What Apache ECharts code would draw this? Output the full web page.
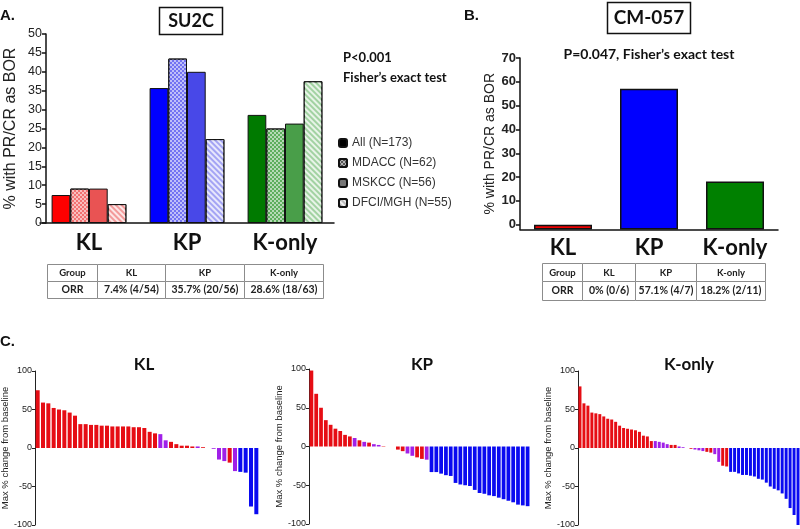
<!DOCTYPE html>
<html>
<head>
<meta charset="utf-8">
<script src="https://cdn.jsdelivr.net/npm/echarts@6/dist/echarts.min.js"></script>
<style>
  html, body { margin: 0; padding: 0; background: #fff; }
  #chart { width: 800px; height: 529px; }
</style>
</head>
<body>
<div id="chart"></div>
<script>
// ---- data ----
const groups = ["KL", "KP", "K-only"];
const cohorts = ["All (N=173)", "MDACC (N=62)", "MSKCC (N=56)", "DFCI/MGH (N=55)"];
const su2cAll = [7.4, 35.7, 28.6];
const su2cMdacc = [9.1, 43.5, 25.0];
const su2cMskcc = [9.1, 40.0, 26.3];
const su2cDfci = [5.0, 22.2, 37.5];
const cm057 = [0, 57.1, 18.2];
const ticksA = [0, 5, 10, 15, 20, 25, 30, 35, 40, 45, 50];
const ticksB = [0, 10, 20, 30, 40, 50, 60, 70];

const tableHead = ["Group", "KL", "KP", "K-only"];
const orrSu2c = ["ORR", "7.4% (4/54)", "35.7% (20/56)", "28.6% (18/63)"];
const orrCm057 = ["ORR", "0% (0/6)", "57.1% (4/7)", "18.2% (2/11)"];

// waterfalls: max % change from baseline, null = empty slot
// response letters: r = red, p = purple, b = blue
const klChange = [75, 59, 58, 52, 50, 49, 46, 42, 31, 31, 30, 30, 29, 29, 28, 28, 28, 28, 27, 27, 26, 21, 19,
  18, 10, 8, 5, 3, 3, 2, 2, 1, null, -1, -15, -17, -19, -30, -31, -32, -76, -86];
const klResp = "rrrrrrrrrrrrrrrrrrrrrrrpprrrrrpr-ppprpbbbb";
const kpChange = [98, 68, 50, 34, 28, 23, 20, 15, 13, 11, 8, 6, 5, 3, 2, 0.5, null, null,
  -4, -6, -9, -12, -14, -16, -17,
  -33, -33, -35, -37, -38, -47, -49, -50, -51, -56, -60, -61, -63, -64, -66, -68, -70, -72, -75, -76, -77];
const kpResp = "rrrrrrrrrprprppr--rrpprrpbbbbbbbbbbbbbbbbbbbbb";
const koChange = [80, 58, 55, 46, 45, 44, 41, 38, 37, 34, 29, 26, 25, 24, 23, 21, 16, 15,
  9, 9, 8, 7, 5, 4, 4, 2, 1, null, -1, -2, -3, -4, -5, -6, -8, -18, -23, -24,
  -31, -31, -33, -35, -35, -36, -37, -40, -41, -45, -50, -53, -55, -59, -66, -78, -87, -100];
const koResp = "rrrrrrrrrrrrrrrrrrrpppprrpp-rppprrpprrbbbbbbbbbbbbbbbbbb";

// ---- styles ----
const fillA = [
  ["#ff0000", "#0000ff", "#007a00"],
  ["#f27272", "#7272f2", "#5cae5c"],
  ["#e95353", "#4848e8", "#499e49"],
  ["#f39a9a", "#a4a4f4", "#a2d2a2"],
];
const legendFill = ["#000000", "#555555", "#777777", "#bbbbbb"];
const decals = [
  null,
  { symbol: "rect", symbolSize: 1, dashArrayX: [[2, 2], [0, 2, 2, 0]], dashArrayY: [2, 0], color: "rgba(255,255,255,0.55)" },
  null,
  { symbol: "rect", symbolSize: 1, rotation: Math.PI / 4, dashArrayX: [1, 0], dashArrayY: [2, 2], color: "rgba(255,255,255,0.75)" },
];
const colorsB = ["#ee0000", "#0000ff", "#008000"];
const respColor = { r: "#e60d14", p: "#a020e8", b: "#0a0af0" };
const baseB = -2; // panel B bars start from the axis floor at -2

const axisFont = "Liberation Sans";
const labelFont = "Lato";

function catAxis(gi, margin) {
  return {
    type: "category", gridIndex: gi, data: groups,
    axisLine: { show: true, lineStyle: { color: "#111", width: 1.5 } },
    axisTick: { show: false },
    axisLabel: { fontSize: 22, fontWeight: "bold", fontFamily: labelFont, color: "#111", margin: margin },
    splitLine: { show: false },
  };
}

function wfX(gi, vals) {
  return { type: "category", gridIndex: gi, data: vals.map((v, i) => i), show: false };
}

function wfY(gi, gap) {
  return {
    type: "value", gridIndex: gi, min: -100, max: 100, interval: 50,
    axisLine: { show: true, lineStyle: { color: "#222", width: 1 } },
    axisTick: { show: true, length: 3, lineStyle: { color: "#222" } },
    axisLabel: { fontSize: 9, color: "#222", fontFamily: axisFont, margin: 3 },
    splitLine: { show: false },
    name: "Max % change from baseline", nameLocation: "middle", nameGap: gap,
    nameTextStyle: { fontSize: 9.5, color: "#222", fontFamily: axisFont },
  };
}

function waterfall(gi, vals, resp, bw) {
  return {
    type: "bar", xAxisIndex: gi, yAxisIndex: gi, barWidth: bw,
    data: vals.map((v, i) => v === null ? "-" : { value: v, itemStyle: { color: respColor[resp[i]] } }),
  };
}

function tableEls(xs, ys, rows) {
  const els = [];
  rows.forEach((row, r) => row.forEach((txt, c) => {
    els.push({
      type: "rect",
      shape: { x: xs[c], y: ys[r], width: xs[c + 1] - xs[c], height: ys[r + 1] - ys[r] },
      style: { fill: "#fff", stroke: "#8c8c8c", lineWidth: 1 },
    });
    els.push({
      type: "text", x: (xs[c] + xs[c + 1]) / 2, y: (ys[r] + ys[r + 1]) / 2,
      style: {
        text: txt, fill: "#222", fontFamily: labelFont, fontWeight: "bold",
        fontSize: r === 0 ? 9.5 : 10.5,
        align: "center", verticalAlign: "middle", textAlign: "center", textVerticalAlign: "middle",
      },
    });
  }));
  return els;
}

function label(text, x, y, size, align, family) {
  return {
    type: "text", x: x, y: y, z: 10,
    style: {
      text: text, fill: "#111", fontFamily: family || labelFont, fontWeight: "bold", fontSize: size,
      align: align, verticalAlign: "middle", textAlign: align, textVerticalAlign: "middle",
    },
  };
}

const seriesA = [su2cAll, su2cMdacc, su2cMskcc, su2cDfci].map((vals, k) => {
  const style = { color: legendFill[k], borderColor: "#111", borderWidth: 1 };
  if (decals[k]) style.decal = decals[k];
  return {
    name: cohorts[k], type: "bar", xAxisIndex: 0, yAxisIndex: 0,
    barWidth: 18.7, barGap: "0%",
    itemStyle: style,
    data: vals.map((v, i) => ({ value: v, itemStyle: { color: fillA[k][i] } })),
  };
});

const seriesB = {
  type: "bar", xAxisIndex: 1, yAxisIndex: 1, barWidth: 58,
  itemStyle: { borderColor: "#111", borderWidth: 1.5 },
  data: cm057.map((v, i) => ({ value: v - baseB, itemStyle: { color: colorsB[i] } })),
};

const gridBase = { containLabel: false, outerBoundsMode: "none" };

const option = {
  animation: false,
  backgroundColor: "#fff",
  grid: [
    Object.assign({ left: 40, top: 34, width: 294, height: 189 }, gridBase),
    Object.assign({ left: 520, top: 58, width: 258, height: 171.5 }, gridBase),
    Object.assign({ left: 35, top: 371, width: 224, height: 154 }, gridBase),
    Object.assign({ left: 309, top: 369, width: 221, height: 155 }, gridBase),
    Object.assign({ left: 578, top: 371, width: 222, height: 154 }, gridBase),
  ],
  legend: {
    data: cohorts, orient: "vertical", left: 338, top: 136,
    itemWidth: 8, itemHeight: 8, itemGap: 6, padding: 0,
    textStyle: { fontSize: 12, color: "#333", fontFamily: axisFont, lineHeight: 14 },
  },
  xAxis: [
    catAxis(0, 9),
    catAxis(1, 7),
    wfX(2, klChange),
    wfX(3, kpChange),
    wfX(4, koChange),
  ],
  yAxis: [
    {
      type: "value", gridIndex: 0, min: 0, max: 50, interval: 5, offset: -6,
      axisLine: { show: true, lineStyle: { color: "#111", width: 1.5 } },
      axisTick: { show: true, length: 4, lineStyle: { color: "#111", width: 1.5 } },
      axisLabel: { fontSize: 12.5, color: "#222", fontFamily: axisFont, margin: 4,
        customValues: ticksA },
      splitLine: { show: false },
      name: "% with PR/CR as BOR", nameLocation: "middle", nameGap: 27,
      nameTextStyle: { fontSize: 16, color: "#222", fontFamily: axisFont },
    },
    {
      type: "value", gridIndex: 1, min: 0, max: 72,
      axisLine: { show: true, lineStyle: { color: "#111", width: 1.5 } },
      axisTick: { show: true, length: 4, lineStyle: { color: "#111", width: 1.5 },
        customValues: ticksB.map(t => t - baseB) },
      axisLabel: { fontSize: 13, fontWeight: "bold", color: "#222", fontFamily: axisFont, margin: 4,
        customValues: ticksB.map(t => t - baseB), formatter: v => String(v + baseB) },
      splitLine: { show: false },
      name: "% with PR/CR as BOR", nameLocation: "middle", nameGap: 22,
      nameTextStyle: { fontSize: 14, color: "#222", fontFamily: axisFont },
    },
    wfY(2, 21),
    wfY(3, 23),
    wfY(4, 19),
  ],
  series: [
    ...seriesA,
    seriesB,
    waterfall(2, klChange, klResp, 4),
    waterfall(3, kpChange, kpResp, "78%"),
    waterfall(4, koChange, koResp, "75%"),
  ],
  graphic: [
    label("A.", 0, 16, 15, "left", axisFont),
    { type: "rect", shape: { x: 159.5, y: 7.5, width: 63, height: 27 }, style: { fill: "#fff", stroke: "#111", lineWidth: 1.5 } },
    label("SU2C", 191, 21, 18, "center"),
    label("P<0.001", 343, 58, 13, "left"),
    label("Fisher\u2019s exact test", 343, 78, 13, "left"),
    label("B.", 464, 16, 15, "left", axisFont),
    { type: "rect", shape: { x: 607.5, y: 2.5, width: 83, height: 31 }, style: { fill: "#fff", stroke: "#111", lineWidth: 1.5 } },
    label("CM-057", 649, 18, 19, "center"),
    label("P=0.047, Fisher\u2019s exact test", 649, 54, 14, "center"),
    ...tableEls([47.5, 97.5, 165.5, 244.5, 323.5], [264.5, 281.5, 298.5], [tableHead, orrSu2c]),
    ...tableEls([542.5, 582.5, 635.5, 696.5, 765.5], [263.5, 281.5, 300.5], [tableHead, orrCm057]),
    label("C.", 0, 342, 15, "left", axisFont),
    label("KL", 144, 365, 17, "center"),
    label("KP", 422, 365, 17, "center"),
    label("K-only", 689, 365, 17, "center"),
  ],
};

const myChart = echarts.init(document.getElementById("chart"));
myChart.setOption(option);
</script>
</body>
</html>
